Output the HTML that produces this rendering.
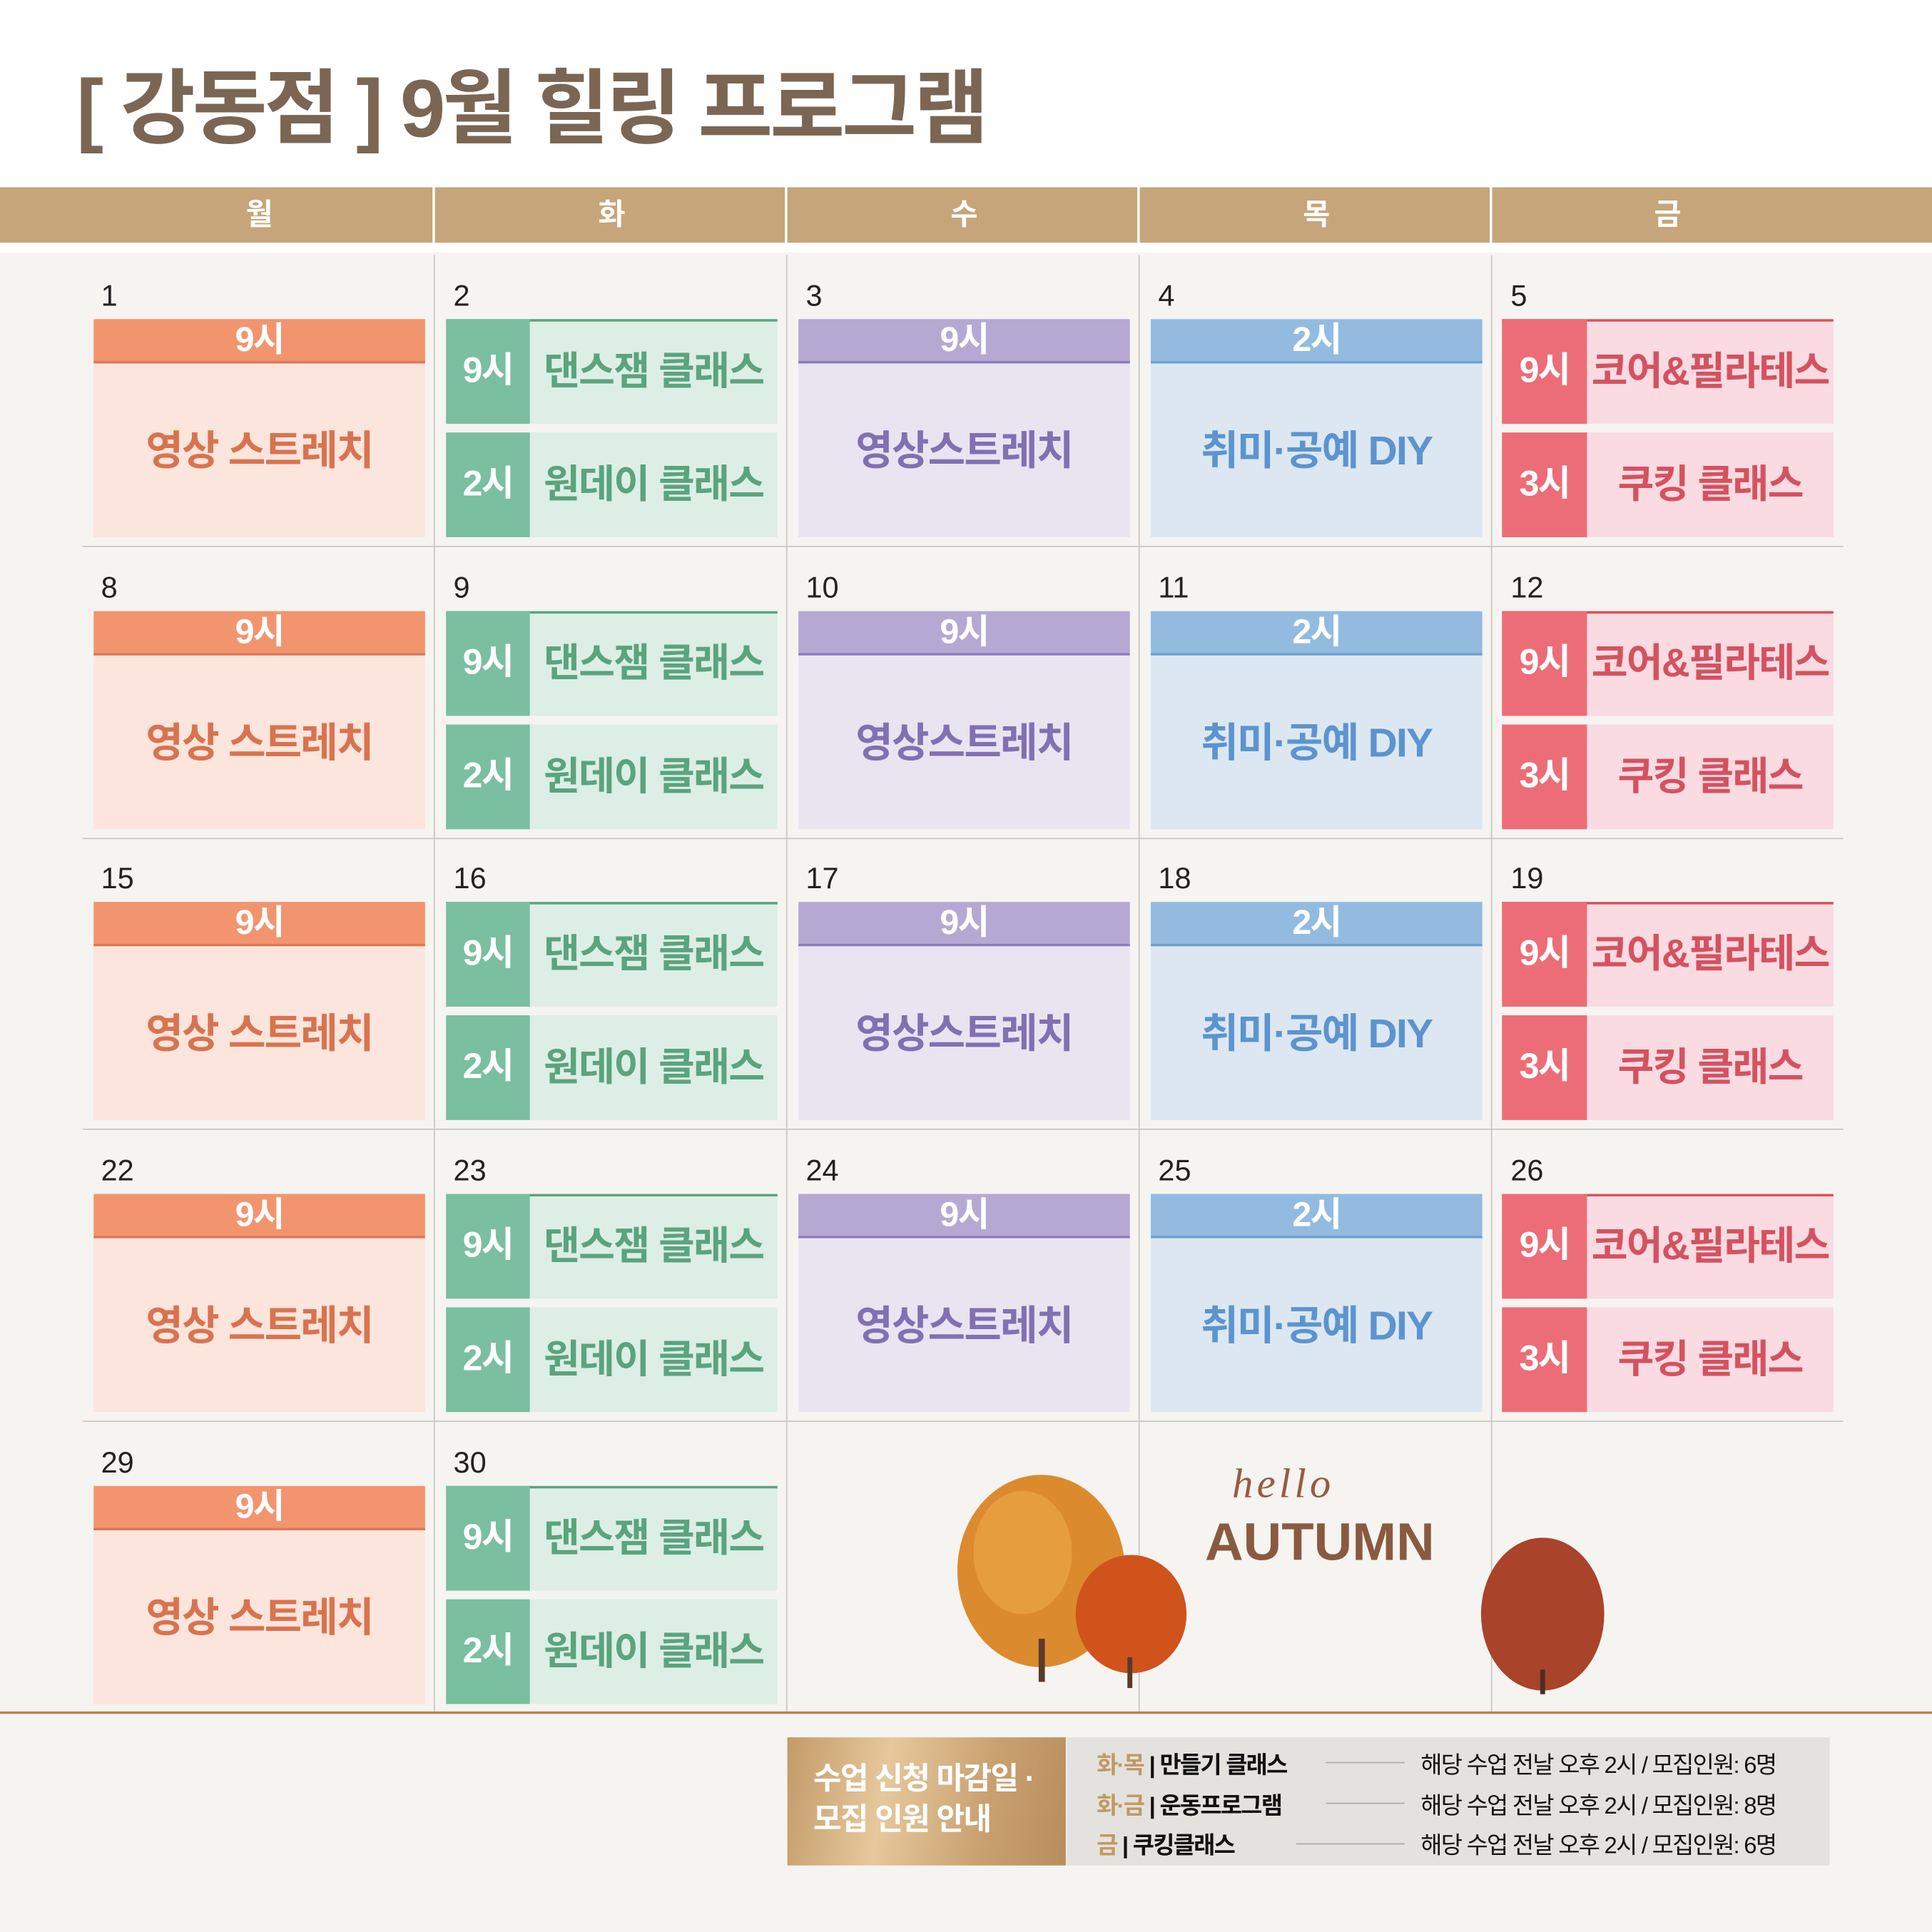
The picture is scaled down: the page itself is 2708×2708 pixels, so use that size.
<!DOCTYPE html>
<html><head><meta charset="utf-8"><style>
*{margin:0;padding:0;box-sizing:border-box}
html,body{width:2708px;height:2708px;overflow:hidden;background:#f5f4f1}
#w{position:absolute;left:0;top:0;width:1568px;height:1568px;transform:scale(1.72704);transform-origin:0 0;background:#f5f4f1;font-family:"Liberation Sans","Noto Sans CJK KR",sans-serif;overflow:hidden}
.a{position:absolute}
.title{left:62px;top:48px;font-size:66px;font-weight:bold;color:#7b6654;letter-spacing:-2.3px;white-space:nowrap;line-height:80px}
.hd{top:152px;height:45px;background:#c6a57a}
.ht{top:152px;height:45px;color:#fff;font-size:24px;font-weight:bold;text-align:center;line-height:45px;width:269px}
.vl{width:1px;background:#c9c6c2;top:207px;height:1183px}
.hl{height:1px;background:#c9c6c2;left:67px;width:1429px}
.row{position:absolute;left:0;width:1568px;height:237px}
.dn{position:absolute;top:20px;font-size:24px;color:#222;font-family:"Liberation Sans",sans-serif}
.b{position:absolute;font-weight:bold;text-align:center;white-space:nowrap;letter-spacing:-1px}
.h1{top:52px;height:36px;line-height:34px;color:#fff;font-size:28px}
.bd{top:88px;height:141px;line-height:141px;font-size:33px}
.s1{top:52px;height:85px;line-height:85px}
.s2{top:144px;height:85px;line-height:85px}
.lab{color:#fff;font-size:29px}
.txt{font-size:32px}
</style></head><body><div id="w">
<div class="a" style="left:0;top:0;width:1568px;height:205px;background:#fff"></div>
<div class="a title">[ 강동점 ] 9월 힐링 프로그램</div>
<div class="a hd" style="left:0;width:351px"></div>
<div class="a hd" style="left:353px;width:284px"></div>
<div class="a hd" style="left:639px;width:284px"></div>
<div class="a hd" style="left:925px;width:284px"></div>
<div class="a hd" style="left:1211px;width:357px"></div>
<div class="a ht" style="left:76px">월</div>
<div class="a ht" style="left:362px">화</div>
<div class="a ht" style="left:648px">수</div>
<div class="a ht" style="left:934px">목</div>
<div class="a ht" style="left:1219px">금</div>
<div class="a vl" style="left:352px"></div><div class="a vl" style="left:638px"></div><div class="a vl" style="left:924px"></div><div class="a vl" style="left:1210px"></div>
<div class="a hl" style="top:443px"></div><div class="a hl" style="top:680px"></div><div class="a hl" style="top:916px"></div><div class="a hl" style="top:1153px"></div>
<div class="a" style="left:0;top:1389px;width:1568px;height:2px;background:#b8804e"></div>

<div class="row" style="top:207px">
<div class="dn" style="left:82px">1</div><div class="dn" style="left:368px">2</div><div class="dn" style="left:654px">3</div><div class="dn" style="left:940px">4</div><div class="dn" style="left:1226px">5</div>
<div class="b h1" style="left:76px;width:269px;background:#f2956e;border-bottom:2px solid #d9785a">9시</div>
<div class="b bd" style="left:76px;width:269px;background:#fbe5dc;color:#d9734f">영상 스트레치</div>
<div class="b s1" style="left:362px;width:269px;background:#ddeee5;border-top:2px solid #5aa47e"></div>
<div class="b s1 lab" style="left:362px;width:68px;background:#7abf9f">9시</div><div class="b s1 txt" style="left:430px;width:201px;color:#5aa47e">댄스잼 클래스</div>
<div class="b s2" style="left:362px;width:269px;background:#ddeee5"></div>
<div class="b s2 lab" style="left:362px;width:68px;background:#7abf9f">2시</div><div class="b s2 txt" style="left:430px;width:201px;color:#5aa47e">원데이 클래스</div>
<div class="b h1" style="left:648px;width:269px;background:#b5a8d2;border-bottom:2px solid #8c7cbd">9시</div>
<div class="b bd" style="left:648px;width:269px;background:#e8e5f1;color:#8170b3">영상스트레치</div>
<div class="b h1" style="left:934px;width:269px;background:#93bbe0;border-bottom:2px solid #6f9fcf">2시</div>
<div class="b bd" style="left:934px;width:269px;background:#dce7f1;color:#5c94cf">취미·공예 DIY</div>
<div class="b s1" style="left:1219px;width:269px;background:#f9dbe1;border-top:2px solid #d45260"></div>
<div class="b s1 lab" style="left:1219px;width:69px;background:#ec6d77">9시</div><div class="b s1 txt" style="left:1288px;width:200px;color:#d45260">코어&amp;필라테스</div>
<div class="b s2" style="left:1219px;width:269px;background:#f9dbe1"></div>
<div class="b s2 lab" style="left:1219px;width:69px;background:#ec6d77">3시</div><div class="b s2 txt" style="left:1288px;width:200px;color:#d45260">쿠킹 클래스</div>
</div>

<div class="row" style="top:444px">
<div class="dn" style="left:82px">8</div><div class="dn" style="left:368px">9</div><div class="dn" style="left:654px">10</div><div class="dn" style="left:940px">11</div><div class="dn" style="left:1226px">12</div>
<div class="b h1" style="left:76px;width:269px;background:#f2956e;border-bottom:2px solid #d9785a">9시</div>
<div class="b bd" style="left:76px;width:269px;background:#fbe5dc;color:#d9734f">영상 스트레치</div>
<div class="b s1" style="left:362px;width:269px;background:#ddeee5;border-top:2px solid #5aa47e"></div>
<div class="b s1 lab" style="left:362px;width:68px;background:#7abf9f">9시</div><div class="b s1 txt" style="left:430px;width:201px;color:#5aa47e">댄스잼 클래스</div>
<div class="b s2" style="left:362px;width:269px;background:#ddeee5"></div>
<div class="b s2 lab" style="left:362px;width:68px;background:#7abf9f">2시</div><div class="b s2 txt" style="left:430px;width:201px;color:#5aa47e">원데이 클래스</div>
<div class="b h1" style="left:648px;width:269px;background:#b5a8d2;border-bottom:2px solid #8c7cbd">9시</div>
<div class="b bd" style="left:648px;width:269px;background:#e8e5f1;color:#8170b3">영상스트레치</div>
<div class="b h1" style="left:934px;width:269px;background:#93bbe0;border-bottom:2px solid #6f9fcf">2시</div>
<div class="b bd" style="left:934px;width:269px;background:#dce7f1;color:#5c94cf">취미·공예 DIY</div>
<div class="b s1" style="left:1219px;width:269px;background:#f9dbe1;border-top:2px solid #d45260"></div>
<div class="b s1 lab" style="left:1219px;width:69px;background:#ec6d77">9시</div><div class="b s1 txt" style="left:1288px;width:200px;color:#d45260">코어&amp;필라테스</div>
<div class="b s2" style="left:1219px;width:269px;background:#f9dbe1"></div>
<div class="b s2 lab" style="left:1219px;width:69px;background:#ec6d77">3시</div><div class="b s2 txt" style="left:1288px;width:200px;color:#d45260">쿠킹 클래스</div>
</div>

<div class="row" style="top:680px">
<div class="dn" style="left:82px">15</div><div class="dn" style="left:368px">16</div><div class="dn" style="left:654px">17</div><div class="dn" style="left:940px">18</div><div class="dn" style="left:1226px">19</div>
<div class="b h1" style="left:76px;width:269px;background:#f2956e;border-bottom:2px solid #d9785a">9시</div>
<div class="b bd" style="left:76px;width:269px;background:#fbe5dc;color:#d9734f">영상 스트레치</div>
<div class="b s1" style="left:362px;width:269px;background:#ddeee5;border-top:2px solid #5aa47e"></div>
<div class="b s1 lab" style="left:362px;width:68px;background:#7abf9f">9시</div><div class="b s1 txt" style="left:430px;width:201px;color:#5aa47e">댄스잼 클래스</div>
<div class="b s2" style="left:362px;width:269px;background:#ddeee5"></div>
<div class="b s2 lab" style="left:362px;width:68px;background:#7abf9f">2시</div><div class="b s2 txt" style="left:430px;width:201px;color:#5aa47e">원데이 클래스</div>
<div class="b h1" style="left:648px;width:269px;background:#b5a8d2;border-bottom:2px solid #8c7cbd">9시</div>
<div class="b bd" style="left:648px;width:269px;background:#e8e5f1;color:#8170b3">영상스트레치</div>
<div class="b h1" style="left:934px;width:269px;background:#93bbe0;border-bottom:2px solid #6f9fcf">2시</div>
<div class="b bd" style="left:934px;width:269px;background:#dce7f1;color:#5c94cf">취미·공예 DIY</div>
<div class="b s1" style="left:1219px;width:269px;background:#f9dbe1;border-top:2px solid #d45260"></div>
<div class="b s1 lab" style="left:1219px;width:69px;background:#ec6d77">9시</div><div class="b s1 txt" style="left:1288px;width:200px;color:#d45260">코어&amp;필라테스</div>
<div class="b s2" style="left:1219px;width:269px;background:#f9dbe1"></div>
<div class="b s2 lab" style="left:1219px;width:69px;background:#ec6d77">3시</div><div class="b s2 txt" style="left:1288px;width:200px;color:#d45260">쿠킹 클래스</div>
</div>

<div class="row" style="top:917px">
<div class="dn" style="left:82px">22</div><div class="dn" style="left:368px">23</div><div class="dn" style="left:654px">24</div><div class="dn" style="left:940px">25</div><div class="dn" style="left:1226px">26</div>
<div class="b h1" style="left:76px;width:269px;background:#f2956e;border-bottom:2px solid #d9785a">9시</div>
<div class="b bd" style="left:76px;width:269px;background:#fbe5dc;color:#d9734f">영상 스트레치</div>
<div class="b s1" style="left:362px;width:269px;background:#ddeee5;border-top:2px solid #5aa47e"></div>
<div class="b s1 lab" style="left:362px;width:68px;background:#7abf9f">9시</div><div class="b s1 txt" style="left:430px;width:201px;color:#5aa47e">댄스잼 클래스</div>
<div class="b s2" style="left:362px;width:269px;background:#ddeee5"></div>
<div class="b s2 lab" style="left:362px;width:68px;background:#7abf9f">2시</div><div class="b s2 txt" style="left:430px;width:201px;color:#5aa47e">원데이 클래스</div>
<div class="b h1" style="left:648px;width:269px;background:#b5a8d2;border-bottom:2px solid #8c7cbd">9시</div>
<div class="b bd" style="left:648px;width:269px;background:#e8e5f1;color:#8170b3">영상스트레치</div>
<div class="b h1" style="left:934px;width:269px;background:#93bbe0;border-bottom:2px solid #6f9fcf">2시</div>
<div class="b bd" style="left:934px;width:269px;background:#dce7f1;color:#5c94cf">취미·공예 DIY</div>
<div class="b s1" style="left:1219px;width:269px;background:#f9dbe1;border-top:2px solid #d45260"></div>
<div class="b s1 lab" style="left:1219px;width:69px;background:#ec6d77">9시</div><div class="b s1 txt" style="left:1288px;width:200px;color:#d45260">코어&amp;필라테스</div>
<div class="b s2" style="left:1219px;width:269px;background:#f9dbe1"></div>
<div class="b s2 lab" style="left:1219px;width:69px;background:#ec6d77">3시</div><div class="b s2 txt" style="left:1288px;width:200px;color:#d45260">쿠킹 클래스</div>
</div>

<div class="row" style="top:1154px">
<div class="dn" style="left:82px">29</div><div class="dn" style="left:368px">30</div>
<div class="b h1" style="left:76px;width:269px;background:#f2956e;border-bottom:2px solid #d9785a">9시</div>
<div class="b bd" style="left:76px;width:269px;background:#fbe5dc;color:#d9734f">영상 스트레치</div>
<div class="b s1" style="left:362px;width:269px;background:#ddeee5;border-top:2px solid #5aa47e"></div>
<div class="b s1 lab" style="left:362px;width:68px;background:#7abf9f">9시</div><div class="b s1 txt" style="left:430px;width:201px;color:#5aa47e">댄스잼 클래스</div>
<div class="b s2" style="left:362px;width:269px;background:#ddeee5"></div>
<div class="b s2 lab" style="left:362px;width:68px;background:#7abf9f">2시</div><div class="b s2 txt" style="left:430px;width:201px;color:#5aa47e">원데이 클래스</div>
</div>

<svg class="a" style="left:760px;top:1180px" width="600" height="210">
<ellipse cx="85" cy="95" rx="68" ry="78" fill="#dc8a2e"/>
<ellipse cx="70" cy="80" rx="40" ry="50" fill="#e9a544" opacity=".7"/>
<rect x="83" y="150" width="5" height="35" fill="#5a3a28"/>
<ellipse cx="158" cy="130" rx="45" ry="48" fill="#d0531c"/>
<rect x="155" y="165" width="4" height="25" fill="#5a3a28"/>
<ellipse cx="492" cy="130" rx="50" ry="62" fill="#a9432a"/>
<rect x="490" y="175" width="4" height="20" fill="#4a3020"/>
</svg>
<div class="a" style="left:1000px;top:1186px;font-family:'Liberation Serif',serif;font-style:italic;font-size:34px;color:#9a5a40;letter-spacing:3px">hello</div>
<div class="a" style="left:978px;top:1228px;font-size:43px;font-weight:bold;color:#8a5a40;letter-spacing:0px">AUTUMN</div>

<div class="a" style="left:639px;top:1410px;width:226px;height:104px;background:linear-gradient(100deg,#c39a68,#e6c89c 35%,#c9a170 70%,#b88d5c);color:#fff;font-size:25px;font-weight:bold;line-height:33px;padding:18px 0 0 21px;letter-spacing:-1px">수업 신청 마감일 ·<br>모집 인원 안내</div>
<div class="a" style="left:866px;top:1410px;width:619px;height:104px;background:#e4e2df"></div>
<div class="a" style="left:890px;top:1418px;font-size:19px;line-height:32.5px;color:#111;font-weight:bold;letter-spacing:-1px;white-space:nowrap"><span style="color:#c09a64">화·목</span> | 만들기 클래스<br><span style="color:#c09a64">화·금</span> | 운동프로그램<br><span style="color:#c09a64">금</span> | 쿠킹클래스</div>
<div class="a" style="left:1076px;top:1430px;width:64px;height:1px;background:#aaa"></div>
<div class="a" style="left:1076px;top:1463px;width:64px;height:1px;background:#aaa"></div>
<div class="a" style="left:1052px;top:1496px;width:88px;height:1px;background:#aaa"></div>
<div class="a" style="left:1153px;top:1418px;font-size:19px;line-height:32.5px;color:#111;letter-spacing:-1px;white-space:nowrap">해당 수업 전날 오후 2시 / 모집인원: 6명<br>해당 수업 전날 오후 2시 / 모집인원: 8명<br>해당 수업 전날 오후 2시 / 모집인원: 6명</div>
</div></body></html>
